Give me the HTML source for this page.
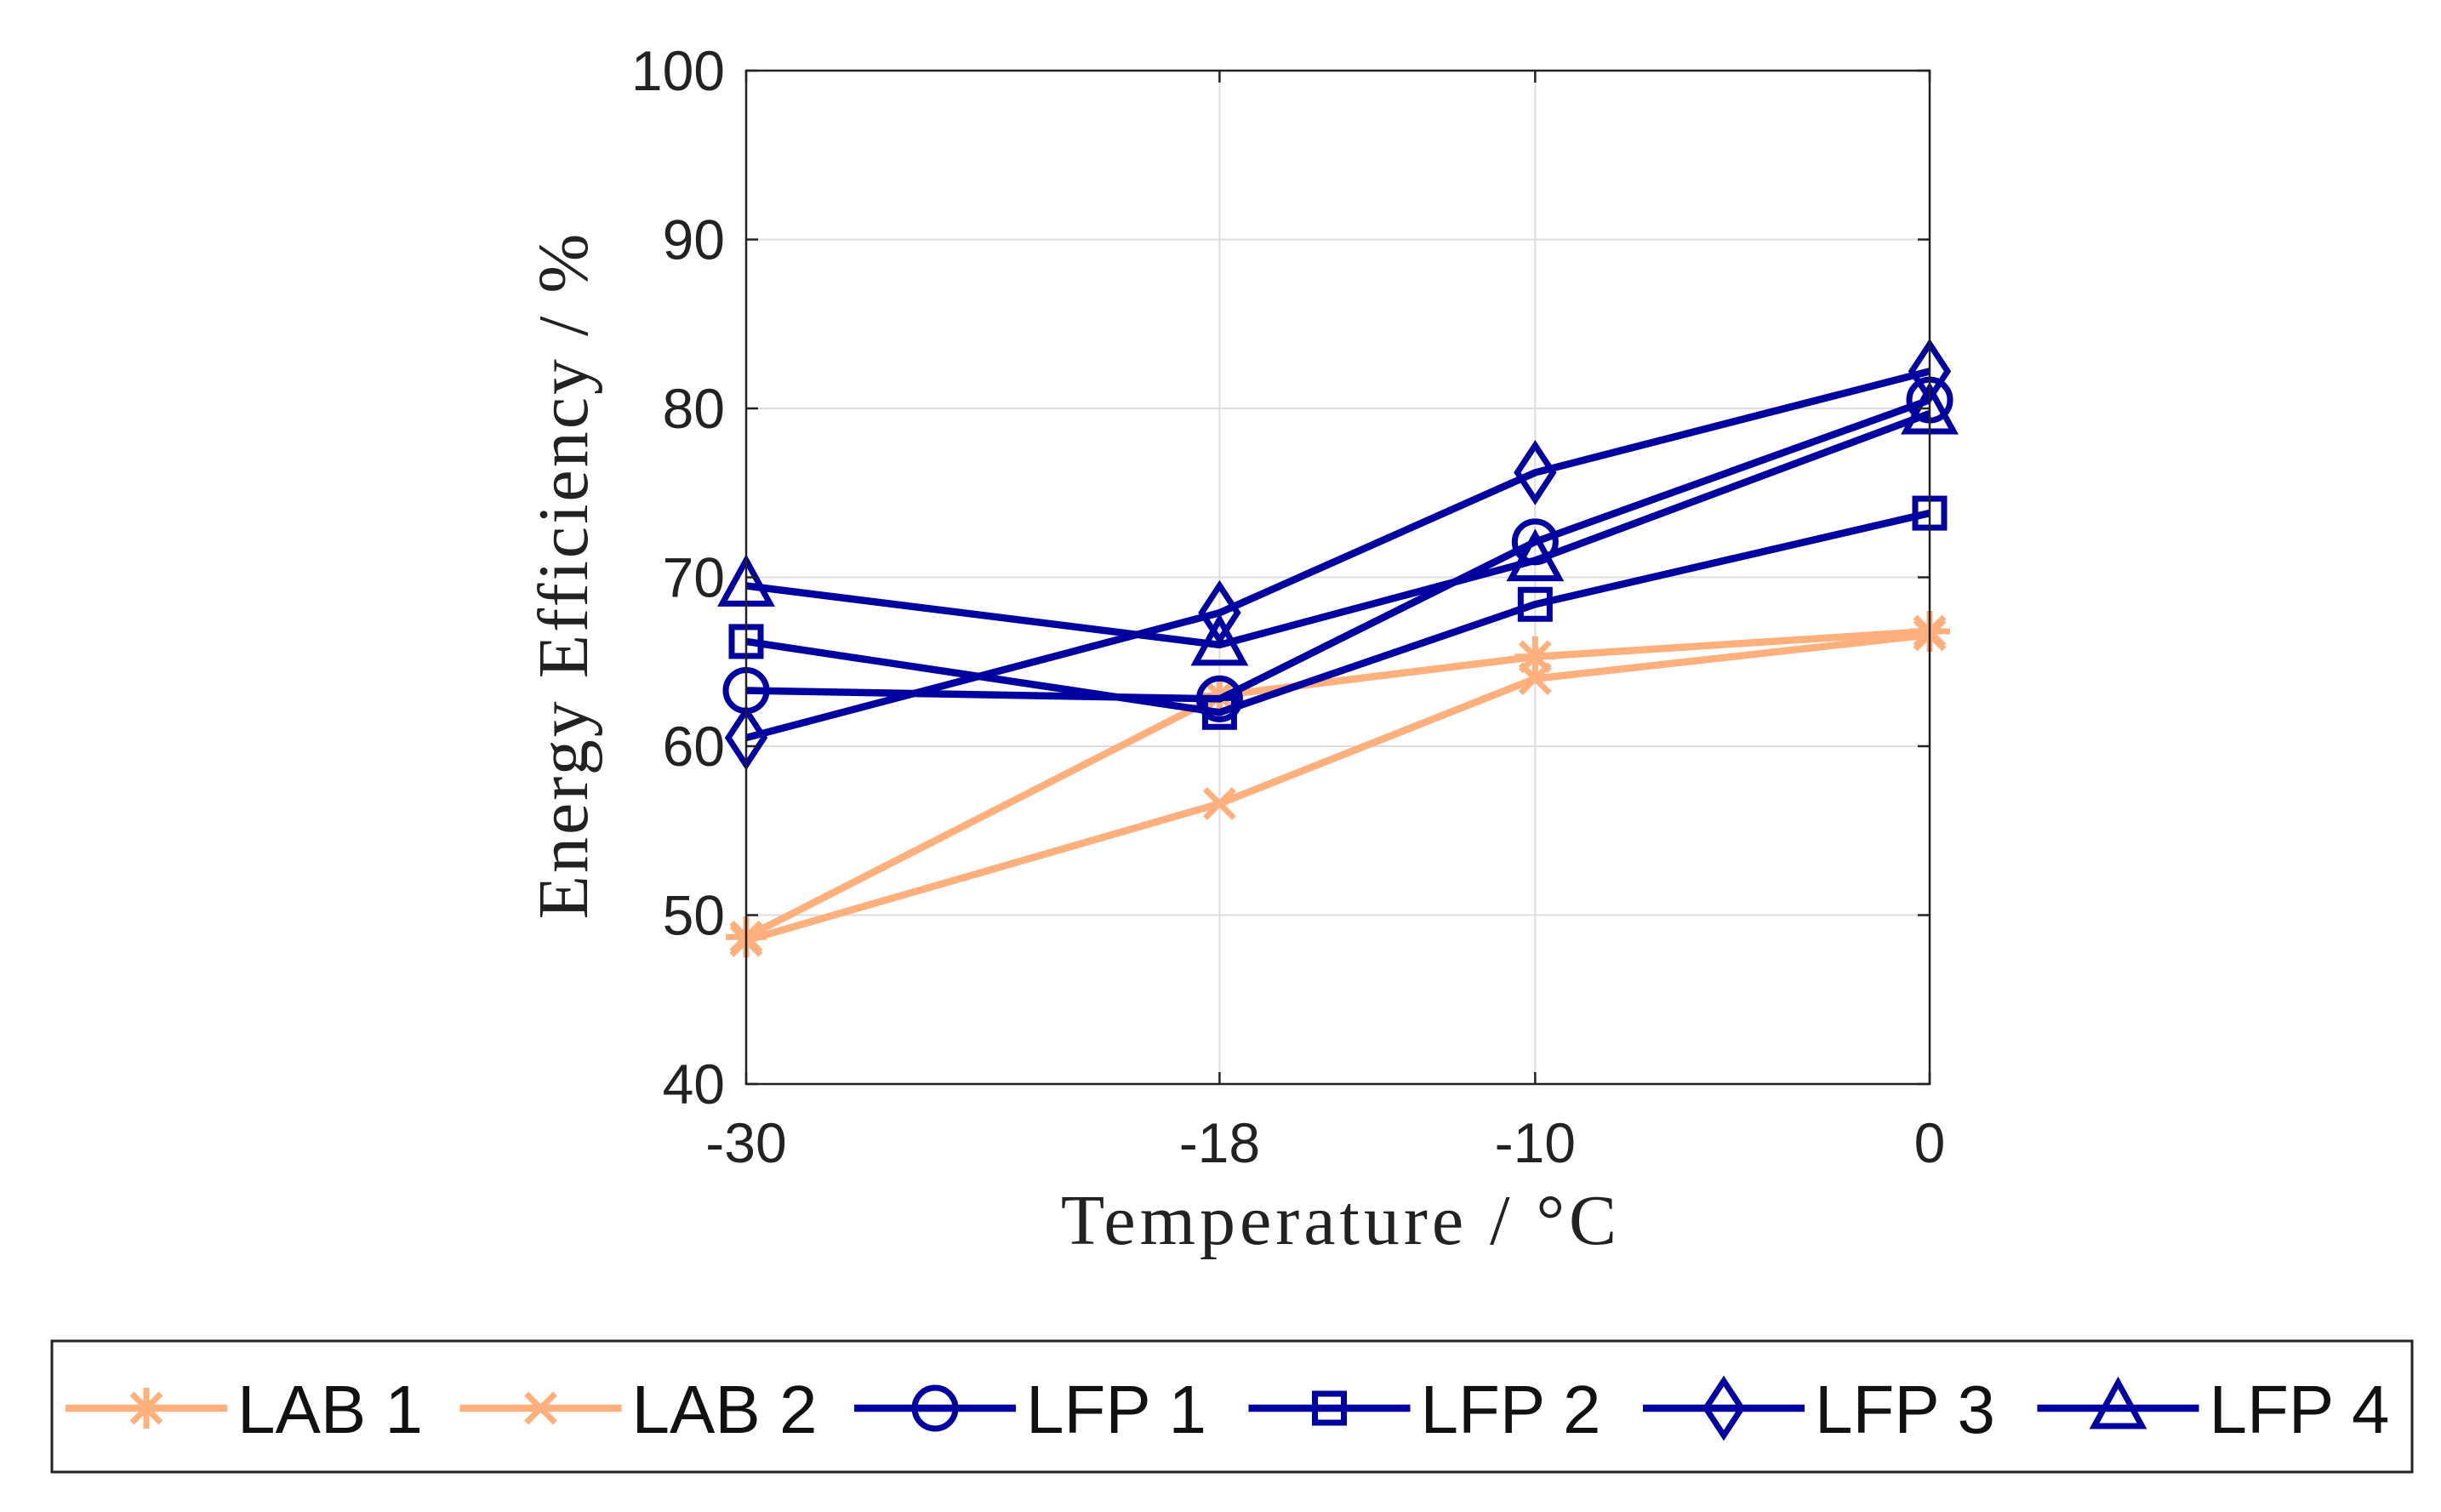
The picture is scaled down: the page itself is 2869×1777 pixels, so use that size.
<!DOCTYPE html>
<html><head><meta charset="utf-8"><style>
html,body{margin:0;padding:0;background:#fff;}
svg{display:block;}
</style></head><body>
<svg id="chart" width="2869" height="1777" viewBox="0 0 2869 1777" xmlns="http://www.w3.org/2000/svg">
<g id="grid"></g>
<g id="series"></g>
<rect x="877" y="83" width="1391" height="1191" fill="none" stroke="#222" stroke-width="2.5"/>
<g id="ticks"></g>
<text x="1576" y="1462" text-anchor="middle" font-family="Liberation Serif, serif" font-size="84" letter-spacing="5" fill="#222">Temperature / °C</text>
<text transform="translate(690,676) rotate(-90)" text-anchor="middle" font-family="Liberation Serif, serif" font-size="84" letter-spacing="3" fill="#222">Energy Efficiency / %</text>
<rect x="61" y="1576" width="2774" height="154" fill="#fff" stroke="#222" stroke-width="3"/>
<g id="legend"></g>
</svg>
<script>
const categories = [-30, -18, -10, 0];
const seriesNames = ["LAB 1","LAB 2","LFP 1","LFP 2","LFP 3","LFP 4"];
const lab1 = [48.7, 63.0, 65.3, 66.8];
const lab2 = [48.5, 56.6, 64.0, 66.6];
const lfp1 = [63.3, 62.8, 72.1, 80.5];
const lfp2 = [66.2, 62.0, 68.4, 73.8];
const lfp3 = [60.5, 67.9, 76.2, 82.2];
const lfp4 = [69.5, 66.0, 71.0, 79.7];
const yTicks = [40, 50, 60, 70, 80, 90, 100];
const xTicks = [-30, -18, -10, 0];

const NS = "http://www.w3.org/2000/svg";
const X0 = 877, X1 = 2268, Y0 = 1274, Y1 = 83;
const xs = v => X0 + (v - (-30)) / 30 * (X1 - X0);
const ys = v => Y0 - (v - 40) / 60 * (Y0 - Y1);
const ORANGE = "#FFB07C", NAVY = "#0000A0";
function mk(tag, attrs, parent){const e=document.createElementNS(NS,tag);for(const k in attrs)e.setAttribute(k,attrs[k]);parent.appendChild(e);return e;}

const grid = document.getElementById('grid');
const ticks = document.getElementById('ticks');
yTicks.forEach(t=>{
  const y = ys(t);
  const g = mk('line',{x1:X0,x2:X1,y1:y,y2:y,stroke:'#dedede','stroke-width':2},grid);
  
  
  const tl = mk('text',{x:852,y:y+23,'text-anchor':'end','font-family':'Liberation Sans, sans-serif','font-size':66,fill:'#222'},ticks);
  tl.textContent = t;
  
  
  [[X0,X0+14],[X1-14,X1]].forEach(([a,b])=>mk('line',{x1:a,x2:b,y1:y,y2:y,stroke:'#222','stroke-width':2.5},ticks));
});
xTicks.forEach(t=>{
  const x = xs(t);
  const g = mk('line',{x1:x,x2:x,y1:Y0,y2:Y1,stroke:'#dedede','stroke-width':2},grid);
  
  
  const tl = mk('text',{x:x,y:1366,'text-anchor':'middle','font-family':'Liberation Sans, sans-serif','font-size':66,fill:'#222'},ticks);
  tl.textContent = t;
  
  
  [[Y0,Y0-14],[Y1,Y1+14]].forEach(([a,b])=>mk('line',{x1:x,x2:x,y1:a,y2:b,stroke:'#222','stroke-width':2.5},ticks));
});

function marker(type, x, y, color, parent){
  const sw = 7, r = 24;
  const g = mk('g',{fill:'none',stroke:color,'stroke-width':sw},parent);
  if(type==='star'){
    [[0,1],[1,0],[0.707,0.707],[0.707,-0.707]].forEach(([dx,dy])=>mk('line',{x1:x-dx*r,y1:y-dy*r,x2:x+dx*r,y2:y+dy*r},g));
  } else if(type==='x'){
    [[0.707,0.707],[0.707,-0.707]].forEach(([dx,dy])=>mk('line',{x1:x-dx*r,y1:y-dy*r,x2:x+dx*r,y2:y+dy*r},g));
  } else if(type==='circle'){
    mk('circle',{cx:x,cy:y,r:r},g);
  } else if(type==='square'){
    mk('rect',{x:x-17,y:y-17,width:34,height:34},g);
  } else if(type==='diamond'){
    mk('polygon',{points:`${x},${y-32} ${x+21},${y} ${x},${y+32} ${x-21},${y}`},g);
  } else if(type==='triangle'){
    mk('polygon',{points:`${x},${y-30} ${x+28},${y+21} ${x-28},${y+21}`},g);
  }
  return g;
}

const seriesData = [lab1, lab2, lfp1, lfp2, lfp3, lfp4];
const markers = ['star','x','circle','square','diamond','triangle'];
const colors = [ORANGE, ORANGE, NAVY, NAVY, NAVY, NAVY];
const sl = document.getElementById('series');
seriesData.forEach((vals,i)=>{
  const g = mk('g',{},sl);
  
  
  const pts = vals.map((v,j)=>xs(categories[j])+','+ys(v)).join(' ');
  mk('polyline',{points:pts,fill:'none',stroke:colors[i],'stroke-width':8.5,'stroke-linejoin':'round'},g);
  vals.forEach((v,j)=>{
    const m = marker(markers[i], xs(categories[j]), ys(v), colors[i], g);
    
    
  });
});

const lg = document.getElementById('legend');
seriesNames.forEach((n,i)=>{
  const x0 = 77 + i*463.5;
  const g = mk('g',{},lg);
  
  
  mk('line',{x1:x0,x2:x0+190,y1:1655,y2:1655,stroke:colors[i],'stroke-width':8.5},g);
  marker(markers[i], x0+95, 1655, colors[i], g);
  const t = mk('text',{x:x0+202,y:1684,'font-family':'Liberation Sans, sans-serif','font-size':80,fill:'#111'},g);
  t.textContent = n;
});
</script>
</body></html>
